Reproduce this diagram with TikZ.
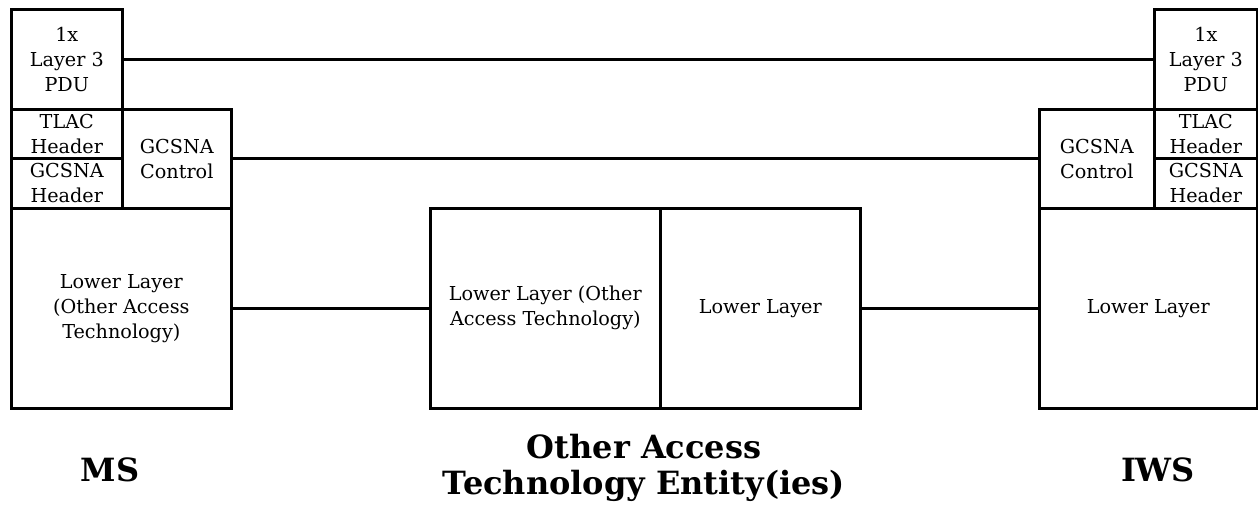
\documentclass[tikz,border=0pt]{standalone}
\usepackage{fontspec}
\setmainfont{DejaVu Serif}
\begin{document}
\begin{tikzpicture}[x=1pt,y=-1pt,
  box/.style={draw, line width=2.6pt, inner sep=0pt, anchor=north west, align=center,
    font=\fontsize{19.2}{25}\selectfont},
  conn/.style={line width=2.6pt},
  lbl/.style={align=center, font=\fontsize{32}{36}\selectfont\bfseries}]
\useasboundingbox (0,0) rectangle (1258,510);
% MS stack
\node[box, minimum width=111pt, minimum height=100pt] (pduL) at (10,8) {1x\\Layer 3\\PDU};
\node[box, minimum width=111pt, minimum height=49pt] (tlacL) at (10,108) {TLAC\\Header};
\node[box, minimum width=111pt, minimum height=50pt] (gcshL) at (10,157) {GCSNA\\Header};
\node[box, minimum width=109pt, minimum height=99pt] (gctlL) at (121,108) {GCSNA\\Control};
\node[box, minimum width=220pt, minimum height=200pt] (lowL) at (10,207) {Lower Layer\\(Other Access\\Technology)};
% middle entity
\node[box, minimum width=230pt, minimum height=200pt] (midA) at (429,207) {Lower Layer (Other\\Access Technology)};
\node[box, minimum width=200pt, minimum height=200pt] (midB) at (659,207) {Lower Layer};
% IWS stack
\node[box, minimum width=103pt, minimum height=100pt] (pduR) at (1153,8) {1x\\Layer 3\\PDU};
\node[box, minimum width=103pt, minimum height=49pt] (tlacR) at (1153,108) {TLAC\\Header};
\node[box, minimum width=103pt, minimum height=50pt] (gcshR) at (1153,157) {GCSNA\\Header};
\node[box, minimum width=115pt, minimum height=99pt] (gctlR) at (1038,108) {GCSNA\\Control};
\node[box, minimum width=218pt, minimum height=200pt] (lowR) at (1038,207) {Lower Layer};
% connectors
\draw[conn] (pduL.east) -- (pduR.west);
\draw[conn] (gctlL.east) -- (gctlR.west);
\draw[conn] (lowL.east) -- (midA.west);
\draw[conn] (midB.east) -- (lowR.west);
% labels
\node[lbl] (ms) at (110,470) {MS};
\node[lbl] (oat) at (644,468) {Other Access\\Technology Entity(ies)};
\node[lbl] (iws) at (1158,470) {IWS};
\end{tikzpicture}
\end{document}
